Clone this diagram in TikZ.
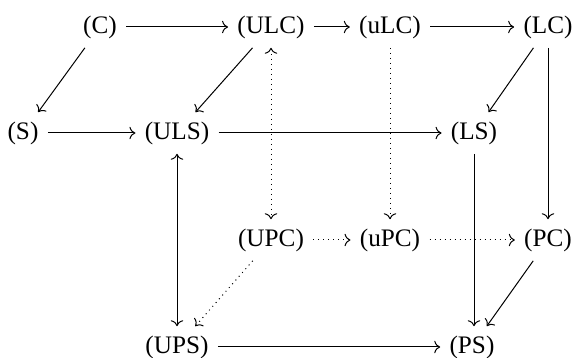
\documentclass[tikz,border=0pt]{standalone}
\usepackage{fontspec}
\setmainfont{Liberation Serif}
\usetikzlibrary{arrows.meta}
\begin{document}
\begin{tikzpicture}[x=0.5pt,y=-0.5pt,
  obj/.style={inner sep=4.5pt,font=\fontsize{12.6}{15}\selectfont},
  arr/.style={-{To[scale=1.1]},line width=0.5pt},
  darr/.style={-{To[scale=1.1]},dotted,line width=0.5pt},
  barr/.style={{To[scale=1.1]}-{To[scale=1.1]},line width=0.5pt},
  bdarr/.style={{To[scale=1.1]}-{To[scale=1.1]},dotted,line width=0.5pt}]
\useasboundingbox (0,0) rectangle (574,358);
\node[obj] (C)   at (100,27)  {(C)};
\node[obj] (ULC) at (271,27)  {(ULC)};
\node[obj] (uLC) at (390,27)  {(uLC)};
\node[obj] (LC)  at (548,27)  {(LC)};
\node[obj] (S)   at (23,133)  {(S)};
\node[obj] (ULS) at (177,133) {(ULS)};
\node[obj] (LS)  at (474,133) {(LS)};
\node[obj] (UPC) at (271,240) {(UPC)};
\node[obj] (uPC) at (390,240) {(uPC)};
\node[obj] (PC)  at (548,240) {(PC)};
\node[obj] (UPS) at (177,347) {(UPS)};
\node[obj] (PS)  at (472,347) {(PS)};
\draw[arr] (C) -- (ULC);
\draw[arr] (ULC) -- (uLC);
\draw[arr] (uLC) -- (LC);
\draw[arr] (C) -- (S);
\draw[arr] (ULC) -- (ULS);
\draw[arr] (LC) -- (LS);
\draw[arr] (LC) -- (PC);
\draw[arr] (S) -- (ULS);
\draw[arr] (ULS) -- (LS);
\draw[arr] (LS) -- (LS |- PS.north);
\draw[bdarr] (ULC) -- (UPC);
\draw[barr] (ULS) -- (UPS);
\draw[darr] (uLC) -- (uPC);
\draw[darr] (UPC) -- (uPC);
\draw[darr] (uPC) -- (PC);
\draw[darr] (UPC) -- (UPS);
\draw[arr] (PC) -- (PS);
\draw[arr] (UPS) -- (PS);
\end{tikzpicture}
\end{document}
